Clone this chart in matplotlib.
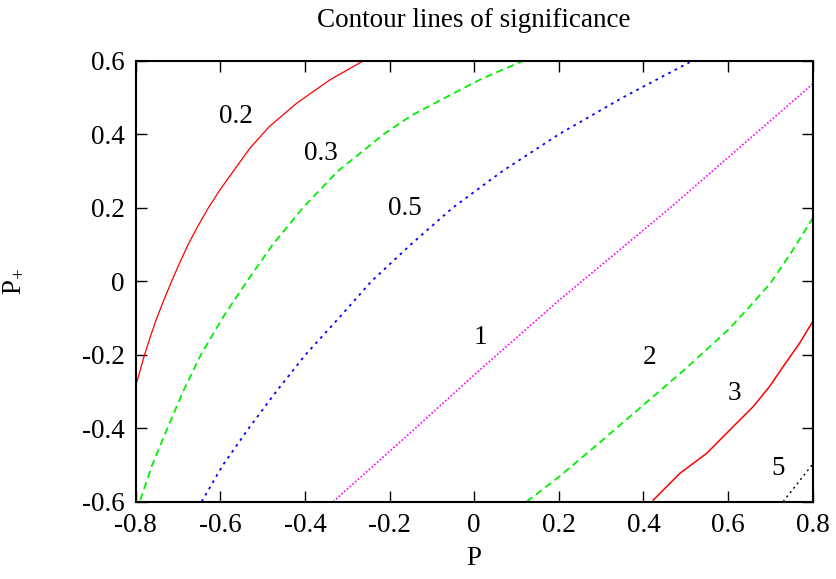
import matplotlib
matplotlib.use("Agg")
import matplotlib.pyplot as plt

plt.rcParams['font.family'] = ['Liberation Serif', 'DejaVu Serif']
plt.rcParams['mathtext.fontset'] = 'custom'
plt.rcParams['mathtext.rm'] = 'Liberation Serif'

# contour levels (P, P+)
levels = ["0.2", "0.3", "0.5", "1", "2", "3", "5"]

x_02 = [-0.799, -0.779, -0.765, -0.750, -0.733, -0.715, -0.696, -0.676, -0.653,
        -0.628, -0.600, -0.569, -0.530, -0.485, -0.419, -0.341, -0.262]
y_02 = [-0.282, -0.200, -0.150, -0.100, -0.050, 0.000, 0.050, 0.100, 0.150,
        0.200, 0.250, 0.300, 0.362, 0.420, 0.485, 0.548, 0.600]

x_03 = [-0.789, -0.761, -0.725, -0.688, -0.646, -0.595, -0.537, -0.476,
        -0.405, -0.322, -0.214, -0.150, -0.068, 0.016, 0.116]
y_03 = [-0.595, -0.500, -0.400, -0.300, -0.200, -0.100, 0.000, 0.100,
        0.200, 0.300, 0.400, 0.450, 0.500, 0.550, 0.600]

x_05 = [-0.644, -0.594, -0.533, -0.468, -0.399, -0.320, -0.243, -0.150,
        -0.051, 0.067, 0.200, 0.351, 0.509]
y_05 = [-0.599, -0.500, -0.400, -0.300, -0.200, -0.100, 0.000, 0.100,
        0.200, 0.300, 0.400, 0.500, 0.596]

x_1 = [-0.333, -0.152, 0.013, 0.202, 0.462, 0.580, 0.800]
y_1 = [-0.599, -0.413, -0.241, -0.050, 0.199, 0.317, 0.537]

x_2 = [0.124, 0.200, 0.300, 0.400, 0.500, 0.600, 0.650, 0.700, 0.750, 0.800]
y_2 = [-0.599, -0.532, -0.435, -0.336, -0.237, -0.132, -0.070, -0.005, 0.080, 0.172]

x_3 = [0.423, 0.486, 0.549, 0.612, 0.659, 0.698, 0.730, 0.769, 0.800]
y_3 = [-0.595, -0.522, -0.468, -0.395, -0.341, -0.286, -0.232, -0.168, -0.109]

x_5 = [0.730, 0.800]
y_5 = [-0.599, -0.497]

# where the level numbers sit
label_x = [-0.562, -0.363, -0.163, 0.015, 0.415, 0.616, 0.718]
label_y = [0.448, 0.347, 0.199, -0.152, -0.206, -0.304, -0.508]

fig = plt.figure(figsize=(8.37, 5.79), dpi=100)
ax = fig.add_axes([0.162, 0.133, 0.809, 0.762])

ax.plot(x_02, y_02, color='#ff0000', lw=0.9)
ax.plot(x_03, y_03, color='#00ee00', lw=1.3, dashes=(4, 2.5))
ax.plot(x_05, y_05, color='#0000ff', lw=1.3, dashes=(1.5, 2.5))
ax.plot(x_1, y_1, color='#ff00ff', lw=1.2, dashes=(1, 1.2))
ax.plot(x_2, y_2, color='#00ee00', lw=1.3, dashes=(4, 2.5))
ax.plot(x_3, y_3, color='#ff0000', lw=1.1)
ax.plot(x_5, y_5, color='black', lw=1.0, dashes=(1.5, 2.5))

for txt, lx, ly in zip(levels, label_x, label_y):
    ax.text(lx, ly, txt, fontsize=19.5, ha='center', va='center')

ax.set_xlim(-0.8, 0.8)
ax.set_ylim(-0.6, 0.6)
ax.set_xticks([-0.8, -0.6, -0.4, -0.2, 0, 0.2, 0.4, 0.6, 0.8])
ax.set_yticks([-0.6, -0.4, -0.2, 0, 0.2, 0.4, 0.6])
ax.set_xticklabels(['-0.8', '-0.6', '-0.4', '-0.2', '0', '0.2', '0.4', '0.6', '0.8'])
ax.set_yticklabels(['-0.6', '-0.4', '-0.2', '0', '0.2', '0.4', '0.6'])
ax.tick_params(direction='in', length=8, width=1, top=True, right=True,
               labelsize=19.5, pad=8)
for s in ax.spines.values():
    s.set_linewidth(1.5)

ax.set_title('Contour lines of significance', fontsize=19.5, pad=24)
ax.set_xlabel('P', fontsize=19.5, labelpad=6)
ax.set_ylabel(r'P$_{+}$', fontsize=19.5, labelpad=40)

fig.savefig('out.png', dpi=100)
